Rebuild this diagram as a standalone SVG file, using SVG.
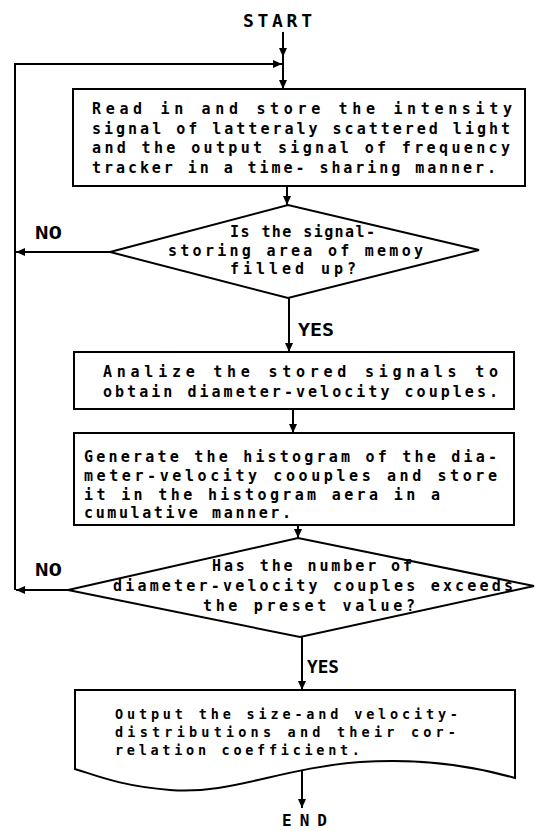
<svg xmlns="http://www.w3.org/2000/svg" width="537" height="831" viewBox="0 0 537 831">
<style>
.shape{fill:#fff;stroke:#000;stroke-width:2;stroke-linejoin:miter}
.line{fill:none;stroke:#000;stroke-width:2}
.t{font-family:"DejaVu Sans Mono","Liberation Mono",monospace;font-size:15px;font-weight:bold;fill:#000}
.s{font-size:13.5px}
.lbl{font-family:"DejaVu Sans Mono","Liberation Mono",monospace;font-size:17px;font-weight:bold;fill:#000}
</style>
<defs>
<marker id="ah" markerUnits="userSpaceOnUse" markerWidth="9" markerHeight="8" refX="9" refY="4" orient="auto">
<path d="M0,0 L9,4 L0,8 z" fill="#000"/>
</marker>
</defs>
<rect width="537" height="831" fill="#fff"/>
<g id="connectors">
<path class="line" d="M283,32 V57" marker-end="url(#ah)"/>
<path class="line" d="M283,57 V89" marker-end="url(#ah)"/>
<path class="line" d="M15,590 V64 H282" marker-end="url(#ah)"/>
<path class="line" d="M68,590 H16" marker-end="url(#ah)"/>
<path class="line" d="M110,252 H16" marker-end="url(#ah)"/>
<path class="line" d="M287,186 V205" marker-end="url(#ah)"/>
<path class="line" d="M289,298 V352" marker-end="url(#ah)"/>
<path class="line" d="M293,409 V433" marker-end="url(#ah)"/>
<path class="line" d="M298,525 V538" marker-end="url(#ah)"/>
<path class="line" d="M302,637 V690" marker-end="url(#ah)"/>
<path class="line" d="M302,771 V808" marker-end="url(#ah)"/>
<text class="lbl" x="35" y="239" textLength="27" lengthAdjust="spacingAndGlyphs">NO</text>
<text class="lbl" x="35" y="576" textLength="27" lengthAdjust="spacingAndGlyphs">NO</text>
<text class="lbl" x="298" y="336" textLength="36" lengthAdjust="spacingAndGlyphs">YES</text>
<text class="lbl" x="307" y="673" textLength="32" lengthAdjust="spacingAndGlyphs">YES</text>
</g>
<g id="start">
<text class="lbl" x="243" y="27" textLength="69" lengthAdjust="spacing" style="font-size:18px">START</text>
</g>
<g id="read-store">
<rect class="shape" x="73" y="89" width="452" height="97"/>
<text class="t" x="92" y="114" textLength="420" lengthAdjust="spacing">Read in  and   store  the  intensity</text>
<text class="t" x="92" y="134" textLength="418" lengthAdjust="spacing">signal of latteraly scattered light</text>
<text class="t" x="92" y="153" textLength="418" lengthAdjust="spacing">and the  output signal of frequency</text>
<text class="t" x="92" y="173" textLength="404" lengthAdjust="spacing">tracker in a time- sharing manner.</text>
</g>
<g id="memory-full">
<polygon class="shape" points="110,252 288,205 479,250 288,298"/>
<text class="t" x="230" y="237" textLength="145" lengthAdjust="spacing">Is the signal-</text>
<text class="t" x="168" y="256" textLength="255" lengthAdjust="spacing">storing area of memoy</text>
<text class="t" x="230" y="274" textLength="126" lengthAdjust="spacing">filled up?</text>
</g>
<g id="analyze">
<rect class="shape" x="74" y="352" width="440" height="57"/>
<text class="t" x="103" y="377" textLength="395" lengthAdjust="spacing">Analize  the  stored  signals to</text>
<text class="t" x="103" y="397" textLength="395" lengthAdjust="spacing">obtain diameter-velocity couples.</text>
</g>
<g id="histogram">
<rect class="shape" x="74" y="433" width="440" height="92"/>
<text class="t" x="84" y="462" textLength="413" lengthAdjust="spacing">Generate the histogram of the dia-</text>
<text class="t" x="84" y="481" textLength="413" lengthAdjust="spacing">meter-velocity coouples and store</text>
<text class="t" x="84" y="500" textLength="356" lengthAdjust="spacing">it in the histogram aera in a</text>
<text class="t" x="84" y="518" textLength="207" lengthAdjust="spacing">cumulative manner.</text>
</g>
<g id="count-check">
<polygon class="shape" points="68,590 298,538 534,586 300,637"/>
<text class="t" x="212" y="571" textLength="200" lengthAdjust="spacing">Has the number of</text>
<text class="t" x="113" y="591" textLength="400" lengthAdjust="spacing">diameter-velocity couples exceeds</text>
<text class="t" x="203" y="611" textLength="212" lengthAdjust="spacing">the preset value?</text>
</g>
<g id="output">
<path class="shape" d="M75,690 H515 V778 C470,765 420,758 360,762 C280,768 230,795 170,790 C120,786 95,775 75,769 Z"/>
<text class="t s" x="115" y="719" textLength="343" lengthAdjust="spacing">Output the size-and velocity-</text>
<text class="t s" x="115" y="737" textLength="341" lengthAdjust="spacing">distributions and their cor-</text>
<text class="t s" x="115" y="755" textLength="245" lengthAdjust="spacing">relation coefficient.</text>
</g>
<g id="end">
<text class="lbl" x="282" y="826" textLength="45" lengthAdjust="spacing" style="font-size:16px">END</text>
</g>
</svg>
